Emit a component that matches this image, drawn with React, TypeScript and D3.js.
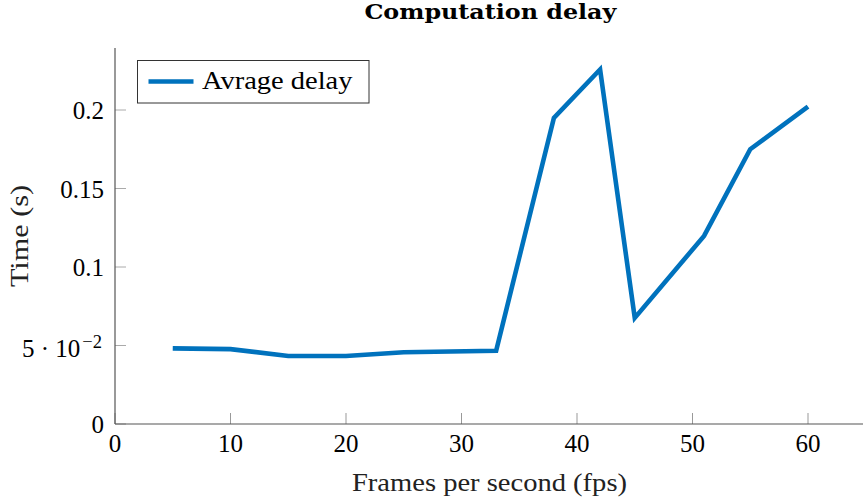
import React from "react";
import * as d3 from "d3";

// Average computation delay measured at each frame rate
const fps = [5, 10, 15, 20, 25, 33, 38, 42, 45, 51, 55, 60];
const delaySeconds = [0.0482, 0.0477, 0.0433, 0.0433, 0.0457, 0.0467, 0.1950, 0.2258, 0.0676, 0.1198, 0.1750, 0.2021];

const xTicks = [0, 10, 20, 30, 40, 50, 60];
const xTickLabels = ["0", "10", "20", "30", "40", "50", "60"];
const yTicks = [0, 0.05, 0.1, 0.15, 0.2];
// "^" separates a superscript exponent
const yTickLabels = ["0", "5 · 10^\u22122", "0.1", "0.15", "0.2"];

const title = "Computation delay";
const xLabel = "Frames per second (fps)";
const yLabel = "Time (s)";
const seriesName = "Avrage delay";

const W = 863;
const H = 503;
const plot = { left: 115, top: 48, bottom: 424, right: 865.75 };
const lineColor = "#0072BD";
const serif = "'Liberation Serif', 'Times New Roman', serif";

export default function App() {
  const x = d3.scaleLinear().domain([0, 65]).range([plot.left, plot.right]);
  const y = d3.scaleLinear().domain([0, 0.2395]).range([plot.bottom, plot.top]);

  const points: [number, number][] = fps.map((f, i) => [f, delaySeconds[i]]);
  const line = d3
    .line<[number, number]>()
    .x((d) => x(d[0]))
    .y((d) => y(d[1]));

  const plotCenterX = (plot.left + plot.right) / 2;
  const plotCenterY = (plot.top + plot.bottom) / 2;

  return (
    <div style={{ position: "absolute", left: 0, top: 0 }}>
      <svg width={W} height={H} viewBox={`0 0 ${W} ${H}`} style={{ display: "block", background: "#fff" }}>
        {/* title */}
        <text
          x={plotCenterX}
          y={18.5}
          textAnchor="middle"
          fontFamily="'DejaVu Serif', serif"
          fontWeight="bold"
          fontSize={21}
          textLength={252}
          lengthAdjust="spacingAndGlyphs"
          fill="#000"
        >
          {title}
        </text>

        {/* x ticks (inward) */}
        {xTicks.map((t) => (
          <line key={"xt" + t} x1={x(t)} x2={x(t)} y1={plot.bottom} y2={plot.bottom - 11} stroke="#999" strokeWidth={1} />
        ))}
        {/* y ticks (inward) */}
        {yTicks.map((t) => (
          <line key={"yt" + t} x1={plot.left} x2={plot.left + 11} y1={y(t)} y2={y(t)} stroke="#aaa" strokeWidth={1} />
        ))}

        {/* axis lines */}
        <line x1={plot.left} x2={plot.left} y1={plot.top} y2={plot.bottom} stroke="#555" strokeWidth={1.2} />
        <line x1={plot.left} x2={W} y1={plot.bottom} y2={plot.bottom} stroke="#555" strokeWidth={1.2} />

        {/* x tick labels */}
        {xTicks.map((t, i) => (
          <text key={"xl" + t} x={x(t)} y={451.5} textAnchor="middle" fontFamily={serif} fontSize={25} fill="#000">
            {xTickLabels[i]}
          </text>
        ))}

        {/* y tick labels */}
        {yTicks.map((t, i) => {
          const [base, sup] = yTickLabels[i].split("^");
          if (sup) {
            return (
              <text key={"yl" + t} x={102} y={y(t) + 11.5} textAnchor="end" fontFamily={serif} fontSize={25} fill="#000">
                {base}
                <tspan dx={2} dy={-9} fontSize={18.5}>
                  {sup}
                </tspan>
              </text>
            );
          }
          return (
            <text key={"yl" + t} x={104} y={y(t) + 9} textAnchor="end" fontFamily={serif} fontSize={25} fill="#000">
              {base}
            </text>
          );
        })}

        {/* axis labels */}
        <text
          x={489.5}
          y={491}
          textAnchor="middle"
          fontFamily={serif}
          fontSize={25}
          textLength={275}
          lengthAdjust="spacingAndGlyphs"
          fill="#222"
        >
          {xLabel}
        </text>
        <text
          transform={`translate(28,${plotCenterY}) rotate(-90)`}
          textAnchor="middle"
          fontFamily={serif}
          fontSize={25}
          textLength={102}
          lengthAdjust="spacingAndGlyphs"
          fill="#222"
        >
          {yLabel}
        </text>

        {/* data series */}
        <path d={line(points) || ""} fill="none" stroke={lineColor} strokeWidth={4.6} strokeLinejoin="miter" strokeMiterlimit={10} />

        {/* legend */}
        <rect x={137.5} y={60.5} width={231.5} height={42.5} fill="#fff" stroke="#333" strokeWidth={1} />
        <line x1={148.5} x2={193.5} y1={81.5} y2={81.5} stroke={lineColor} strokeWidth={4.6} />
        <text
          x={202}
          y={89}
          fontFamily={serif}
          fontSize={25}
          textLength={150.5}
          lengthAdjust="spacingAndGlyphs"
          fill="#000"
        >
          {seriesName}
        </text>
      </svg>
    </div>
  );
}
